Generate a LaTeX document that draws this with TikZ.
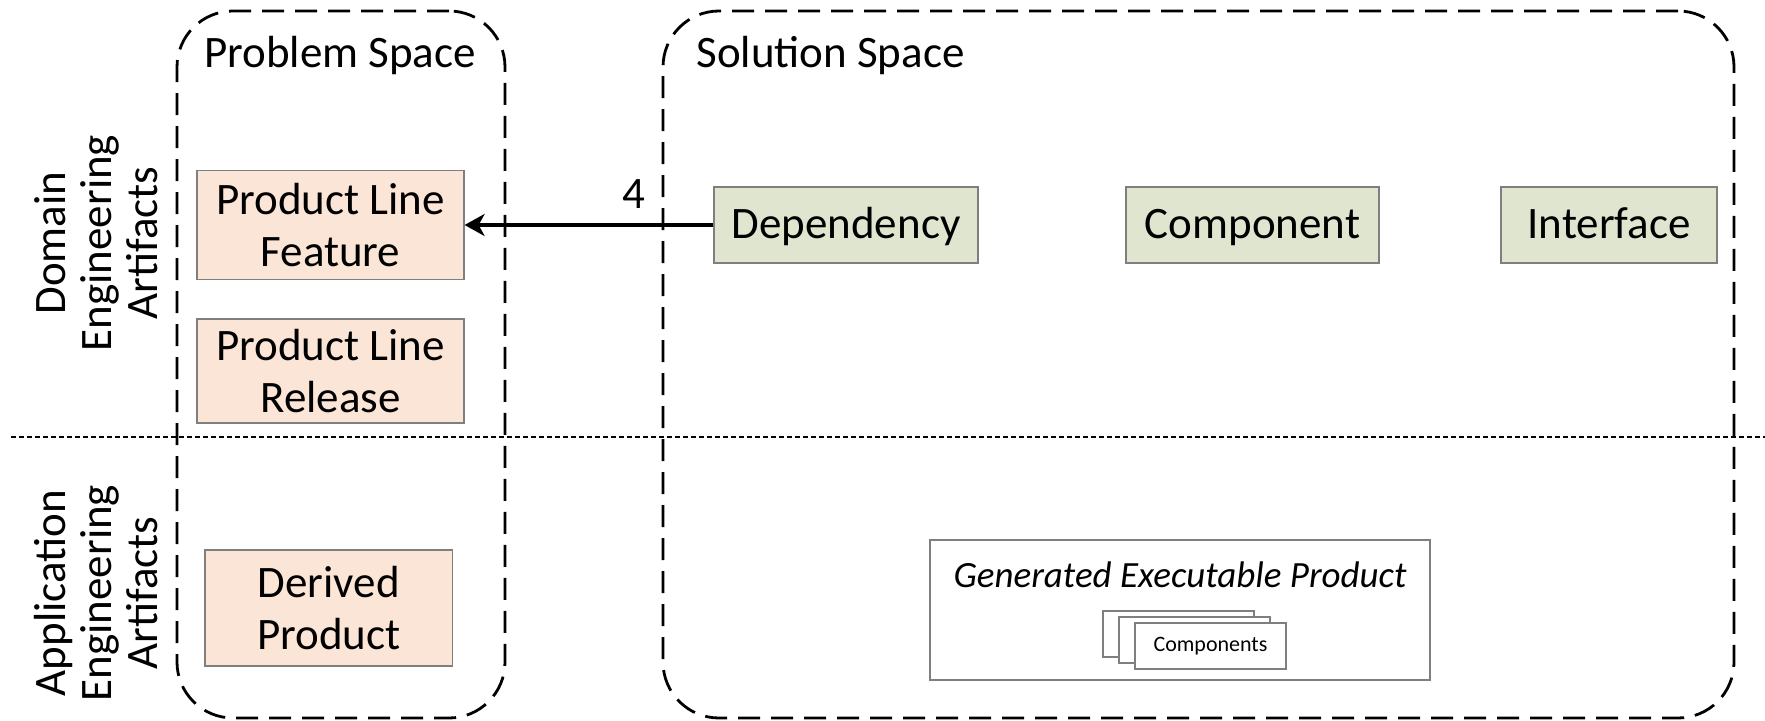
\documentclass[tikz,border=0pt]{standalone}
\usepackage{fontspec}
\setmainfont{Carlito}
\usetikzlibrary{arrows.meta}
\definecolor{peach}{HTML}{FBE5D6}
\definecolor{sage}{HTML}{DFE5CE}
\definecolor{edge}{HTML}{7F7F7F}

\begin{document}
\begin{tikzpicture}[x=50pt, y=50pt, >={Stealth[length=10pt,width=11pt,inset=3pt]}]
\tikzstyle{space}=[draw=black, dash pattern=on 11pt off 5.5pt, line width=1.4pt, rounded corners=28pt]
\tikzstyle{artifact}=[draw=edge, line width=0.6pt, align=center, inner sep=0pt, font=\fontsize{22.5}{26}\selectfont]
\tikzstyle{problem}=[artifact, fill=peach]
\tikzstyle{solution}=[artifact, fill=sage, minimum height=38pt, text height=17pt, text depth=3pt]
\tikzstyle{title}=[anchor=base, font=\fontsize{22.5}{26}\selectfont]
\tikzstyle{side}=[rotate=90, align=center, font=\fontsize{22.5}{23}\selectfont]
\tikzstyle{card}=[draw=edge, fill=white, line width=0.6pt, minimum width=75.5pt, minimum height=23pt, inner sep=0pt]

\useasboundingbox (0,0) rectangle (17.65,-7.21);

% Spaces
\node at (3.41, -3.645) [space, minimum width=164pt, minimum height=353.5pt] (problem_space) {};
\node at (11.985, -3.645) [space, minimum width=535.5pt, minimum height=353.5pt] (solution_space) {};
\node at (3.40, -0.675) [title] (problem_title) {Problem Space};
\node at (8.305, -0.675) [title] (solution_title) {Solution Space};

% Domain / application split
\coordinate (divider_l) at (0.11, -4.37);
\coordinate (divider_r) at (17.65, -4.37);
\draw [dash pattern=on 2.5pt off 1.5pt, line width=1.1pt] (divider_l) -- (divider_r);

% Side labels
\node at (0.96, -2.43) [side] (domain_label) {Domain\\Engineering\\Artifacts};
\node at (0.96, -5.93) [side] (application_label) {Application\\Engineering\\Artifacts};

% Problem space artifacts
\node at (3.305, -2.25) [problem, minimum width=133.5pt, minimum height=54.5pt] (pl_feature) {Product Line\\Feature};
\node at (3.305, -3.71) [problem, minimum width=133.5pt, minimum height=52pt] (pl_release) {Product Line\\Release};
\node at (3.2875, -6.08) [problem, minimum width=123.75pt, minimum height=58pt] (derived) {Derived\\Product};

% Solution space artifacts
\node at (8.46, -2.25) [solution, minimum width=132pt] (dependency) {Dependency};
\node at (12.525, -2.25) [solution, minimum width=126.5pt] (component) {Component};
\node at (16.09, -2.25) [solution, minimum width=108pt] (interface) {Interface};

\draw [->, line width=1.7pt] (dependency) -- (pl_feature);
\node at (6.34, -1.94) [font=\fontsize{22.5}{26}\selectfont] (multiplicity) {4};

% Generated product
\node at (11.8, -6.1) [draw=edge, line width=0.6pt, minimum width=250pt, minimum height=70pt] (executable) {};
\node at (11.8, -5.75) [font=\fontsize{18.5}{22}\selectfont\itshape] (executable_title) {Generated Executable Product};
\foreach \i/\x/\y in {1/11.785/-6.34, 2/11.945/-6.40}
\node at (\x, \y) [card] (card_\i) {};
\node at (12.105, -6.46) [card, font=\fontsize{11}{13}\selectfont] (card_3) {Components};
\end{tikzpicture}
\end{document}
